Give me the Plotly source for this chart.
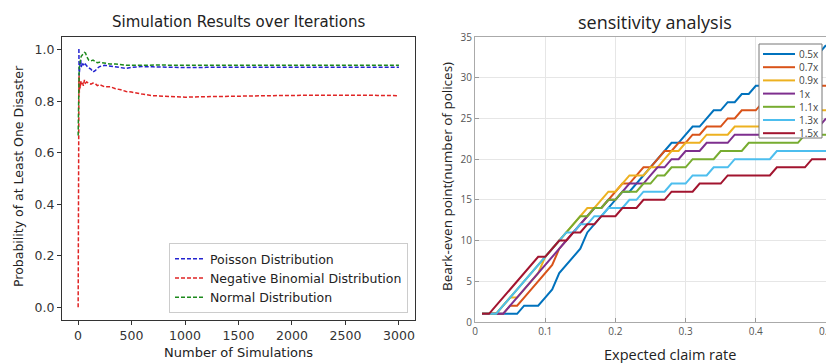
import plotly.graph_objects as go

W, H = 834, 363
OFF = 8  # page body margin offset

# ---------------- Left chart data ----------------
sim_n = [1, 2, 3, 4, 5, 6, 8, 10, 12, 15, 20, 25, 30, 40, 50, 60, 70, 80,
         100, 120, 140, 160, 180, 200, 250, 300, 350, 400, 450, 500,
         600, 700, 800, 900, 1000, 1200, 1400, 1600, 1800, 2000,
         2200, 2400, 2600, 2800, 3000]
poisson = [1.0, 1.0, 1.0, 1.0, 1.0, 1.0, 1.0, 0.9, 0.917, 0.933,
           0.95, 0.96, 0.933, 0.95, 0.94, 0.95, 0.943, 0.938, 0.93, 0.925,
           0.914, 0.919, 0.928, 0.935, 0.94, 0.937, 0.933, 0.93, 0.928, 0.932,
           0.935, 0.934, 0.933, 0.932, 0.931,
           0.932, 0.932, 0.931, 0.932, 0.932, 0.931, 0.932, 0.932, 0.931, 0.932]
neg_binom = [0.0, 0.5, 0.667, 0.75, 0.8, 0.833, 0.875, 0.9, 0.833, 0.867,
             0.85, 0.88, 0.867, 0.875, 0.86, 0.883, 0.871, 0.875, 0.87, 0.867,
             0.871, 0.869, 0.861, 0.865, 0.856, 0.857, 0.849, 0.845, 0.838, 0.836,
             0.828, 0.822, 0.82, 0.818, 0.816,
             0.818, 0.82, 0.821, 0.822, 0.823, 0.824, 0.823, 0.824, 0.823, 0.822]
normal = [0.667, 0.75, 0.8, 0.833, 0.857, 0.875, 0.9, 0.917, 0.933, 0.95,
          0.96, 0.967, 0.975, 0.98, 0.985, 0.99, 0.988, 0.975, 0.96, 0.957,
          0.96, 0.955, 0.95, 0.952, 0.948, 0.945, 0.945, 0.942, 0.94, 0.94,
          0.941, 0.94, 0.941, 0.94, 0.94,
          0.941, 0.94, 0.941, 0.94, 0.94, 0.941, 0.94, 0.941, 0.94, 0.94]
left_names = ["Poisson Distribution", "Negative Binomial Distribution", "Normal Distribution"]
left_colors = ["#2323d0", "#e02424", "#1d8a1d"]
left_x_ticks = [0, 500, 1000, 1500, 2000, 2500, 3000]
left_y_ticks = [0.0, 0.2, 0.4, 0.6, 0.8, 1.0]

# ---------------- Right chart data ----------------
claim_rate = [0.01, 0.02, 0.03, 0.04, 0.05, 0.06, 0.07, 0.08, 0.09, 0.10,
              0.11, 0.12, 0.13, 0.14, 0.15, 0.16, 0.17, 0.18, 0.19, 0.20,
              0.21, 0.22, 0.23, 0.24, 0.25, 0.26, 0.27, 0.28, 0.29, 0.30,
              0.31, 0.32, 0.33, 0.34, 0.35, 0.36, 0.37, 0.38, 0.39, 0.40,
              0.41, 0.42, 0.43, 0.44, 0.45, 0.46, 0.47, 0.48, 0.49, 0.50]
be_05 = [1, 1, 1, 1, 1, 1, 2, 2, 2, 3, 4, 6, 7, 8, 9, 11, 12, 13, 14, 15,
         16, 16, 17, 18, 19, 20, 21, 22, 22, 23, 24, 24, 25, 26, 26, 27, 27, 28, 28, 29,
         29, 30, 30, 31, 31, 32, 32, 33, 33, 34]
be_07 = [1, 1, 1, 1, 2, 2, 3, 4, 5, 6, 7, 9, 10, 11, 12, 13, 14, 14, 15, 16,
         17, 17, 18, 19, 19, 20, 21, 21, 22, 22, 23, 23, 24, 24, 24, 25, 25, 26, 26, 26,
         27, 27, 27, 28, 28, 28, 28, 29, 29, 29]
be_09 = [1, 1, 1, 2, 3, 3, 4, 5, 6, 8, 9, 10, 11, 12, 13, 14, 14, 15, 16, 16,
         17, 18, 18, 18, 19, 19, 20, 21, 21, 22, 22, 22, 23, 23, 23, 23, 24, 24, 24, 24,
         24, 25, 25, 25, 25, 25, 26, 26, 26, 26]
be_10 = [1, 1, 1, 1, 2, 3, 4, 5, 6, 7, 8, 9, 10, 11, 12, 13, 14, 14, 15, 15,
         16, 17, 17, 17, 18, 19, 19, 20, 20, 21, 21, 21, 22, 22, 22, 22, 23, 23, 23, 23,
         23, 23, 24, 24, 24, 24, 24, 24, 24, 25]
be_11 = [1, 1, 1, 2, 3, 4, 5, 6, 7, 8, 9, 10, 11, 12, 13, 13, 14, 14, 15, 15,
         16, 16, 16, 17, 17, 18, 18, 19, 19, 19, 20, 20, 20, 20, 21, 21, 21, 21, 22, 22,
         22, 22, 22, 22, 22, 22, 23, 23, 23, 23]
be_13 = [1, 1, 1, 2, 3, 4, 5, 6, 7, 8, 9, 10, 11, 11, 12, 12, 13, 13, 14, 14,
         14, 15, 15, 16, 16, 16, 16, 17, 17, 17, 18, 18, 18, 19, 19, 19, 20, 20, 20, 20,
         20, 20, 21, 21, 21, 21, 21, 21, 21, 21]
be_15 = [1, 1, 2, 3, 4, 5, 6, 7, 8, 8, 9, 10, 10, 11, 11, 12, 12, 13, 13, 13,
         14, 14, 14, 15, 15, 15, 15, 16, 16, 16, 16, 17, 17, 17, 17, 18, 18, 18, 18, 18,
         18, 18, 19, 19, 19, 19, 19, 20, 20, 20]
right_names = ["0.5x", "0.7x", "0.9x", "1x", "1.1x", "1.3x", "1.5x"]
right_series = [be_05, be_07, be_09, be_10, be_11, be_13, be_15]
right_colors = ["#0072BD", "#D95319", "#EDB120", "#7E2F8E", "#77AC30", "#4DBEEE", "#A2142F"]
right_x_ticks = [0, 0.1, 0.2, 0.3, 0.4, 0.5]
right_x_labels = ["0", "0.1", "0.2", "0.3", "0.4", "0.5"]
right_y_ticks = [0, 5, 10, 15, 20, 25, 30, 35]


def px_x(p):
    return (p - OFF) / W


def px_y(p):
    return 1 - (p - OFF) / H


fig = go.Figure()

for name, vals, col in zip(left_names, [poisson, neg_binom, normal], left_colors):
    fig.add_trace(go.Scatter(x=sim_n, y=vals, mode="lines", name=name,
                             line=dict(color=col, width=1.5, dash="4px,2px"),
                             xaxis="x", yaxis="y", legend="legend"))

for name, vals, col in zip(right_names, right_series, right_colors):
    fig.add_trace(go.Scatter(x=claim_rate, y=vals, mode="lines", name=name,
                             line=dict(color=col, width=2), showlegend=False,
                             xaxis="x2", yaxis="y2"))

LF = "DejaVu Sans"
RF = "Open Sans"
fig.update_layout(
    template="none",
    width=W, height=H,
    margin=dict(l=0, r=0, t=0, b=0, pad=0),
    paper_bgcolor="white", plot_bgcolor="white",
    font=dict(family=LF, size=12, color="#222"),
    xaxis=dict(domain=[px_x(62), px_x(415)], range=[-150, 3150], automargin=False,
               tickvals=left_x_ticks, ticks="outside", ticklen=4, tickcolor="#333",
               showline=True, mirror=True, linecolor="#333", linewidth=1,
               showgrid=False, zeroline=False,
               tickfont=dict(family=LF, size=12.5, color="#333")),
    yaxis=dict(domain=[px_y(320), px_y(37)], range=[-0.05, 1.05], automargin=False,
               tickvals=left_y_ticks, tickformat=".1f", ticks="outside", ticklen=4,
               tickcolor="#333", showline=True, mirror=True, linecolor="#333",
               linewidth=1, showgrid=False, zeroline=False,
               tickfont=dict(family=LF, size=12.5, color="#333")),
    xaxis2=dict(domain=[px_x(475), px_x(826)], range=[0, 0.5], anchor="y2",
                automargin=False,
                tickvals=right_x_ticks, ticktext=right_x_labels,
                ticks="inside", ticklen=4, tickcolor="#999",
                showline=True, mirror=True, linecolor="#aaa", linewidth=1,
                showgrid=True, gridcolor="#e6e6e6", zeroline=False,
                tickfont=dict(family=RF, size=10, color="#555")),
    yaxis2=dict(domain=[px_y(322), px_y(37)], range=[0, 35], anchor="x2",
                automargin=False,
                tickvals=right_y_ticks, ticks="inside", ticklen=4, tickcolor="#999",
                showline=True, mirror=True, linecolor="#aaa", linewidth=1,
                showgrid=True, gridcolor="#e6e6e6", zeroline=False,
                tickfont=dict(family=RF, size=10, color="#555")),
    legend=dict(x=px_x(408), y=px_y(313), xanchor="right", yanchor="bottom",
                bgcolor="rgba(255,255,255,0.85)", bordercolor="#ccc", borderwidth=1,
                font=dict(family=LF, size=12.5, color="#222"), tracegroupgap=0),
    showlegend=True,
)

annotations = [
    dict(text="Simulation Results over Iterations", x=px_x(238), y=px_y(22),
         font=dict(family=LF, size=15, color="#222")),
    dict(text="Number of Simulations", x=px_x(238), y=px_y(352),
         font=dict(family=LF, size=13, color="#222")),
    dict(text="Probability of at Least One Disaster", x=px_x(18), y=px_y(176),
         textangle=-90, font=dict(family=LF, size=12.5, color="#222")),
    dict(text="sensitivity analysis", x=px_x(655), y=px_y(22),
         font=dict(family=RF, size=18, color="#222")),
    dict(text="Expected claim rate", x=px_x(670), y=px_y(354),
         font=dict(family=RF, size=14.5, color="#222")),
    dict(text="Beark-even point(number of polices)", x=px_x(447), y=px_y(176),
         textangle=-90, font=dict(family=RF, size=13.5, color="#222")),
]
for a in annotations:
    a.update(xref="paper", yref="paper", showarrow=False, xanchor="center", yanchor="middle")
    fig.add_annotation(**a)

# MATLAB-style legend box for the right chart
shapes = [dict(type="rect", xref="paper", yref="paper",
               x0=px_x(759), x1=px_x(822), y0=px_y(138), y1=px_y(44),
               fillcolor="white", line=dict(color="#777", width=1), layer="above")]
for i, (name, col) in enumerate(zip(right_names, right_colors)):
    yc = 54 + i * 13.2
    shapes.append(dict(type="line", xref="paper", yref="paper",
                       x0=px_x(763), x1=px_x(795), y0=px_y(yc), y1=px_y(yc),
                       line=dict(color=col, width=2), layer="above"))
    fig.add_annotation(text=name, xref="paper", yref="paper", x=px_x(797), y=px_y(yc),
                       xanchor="left", yanchor="middle", showarrow=False,
                       font=dict(family=RF, size=10, color="#444"))
fig.update_layout(shapes=shapes)

fig.write_html("out.html")
